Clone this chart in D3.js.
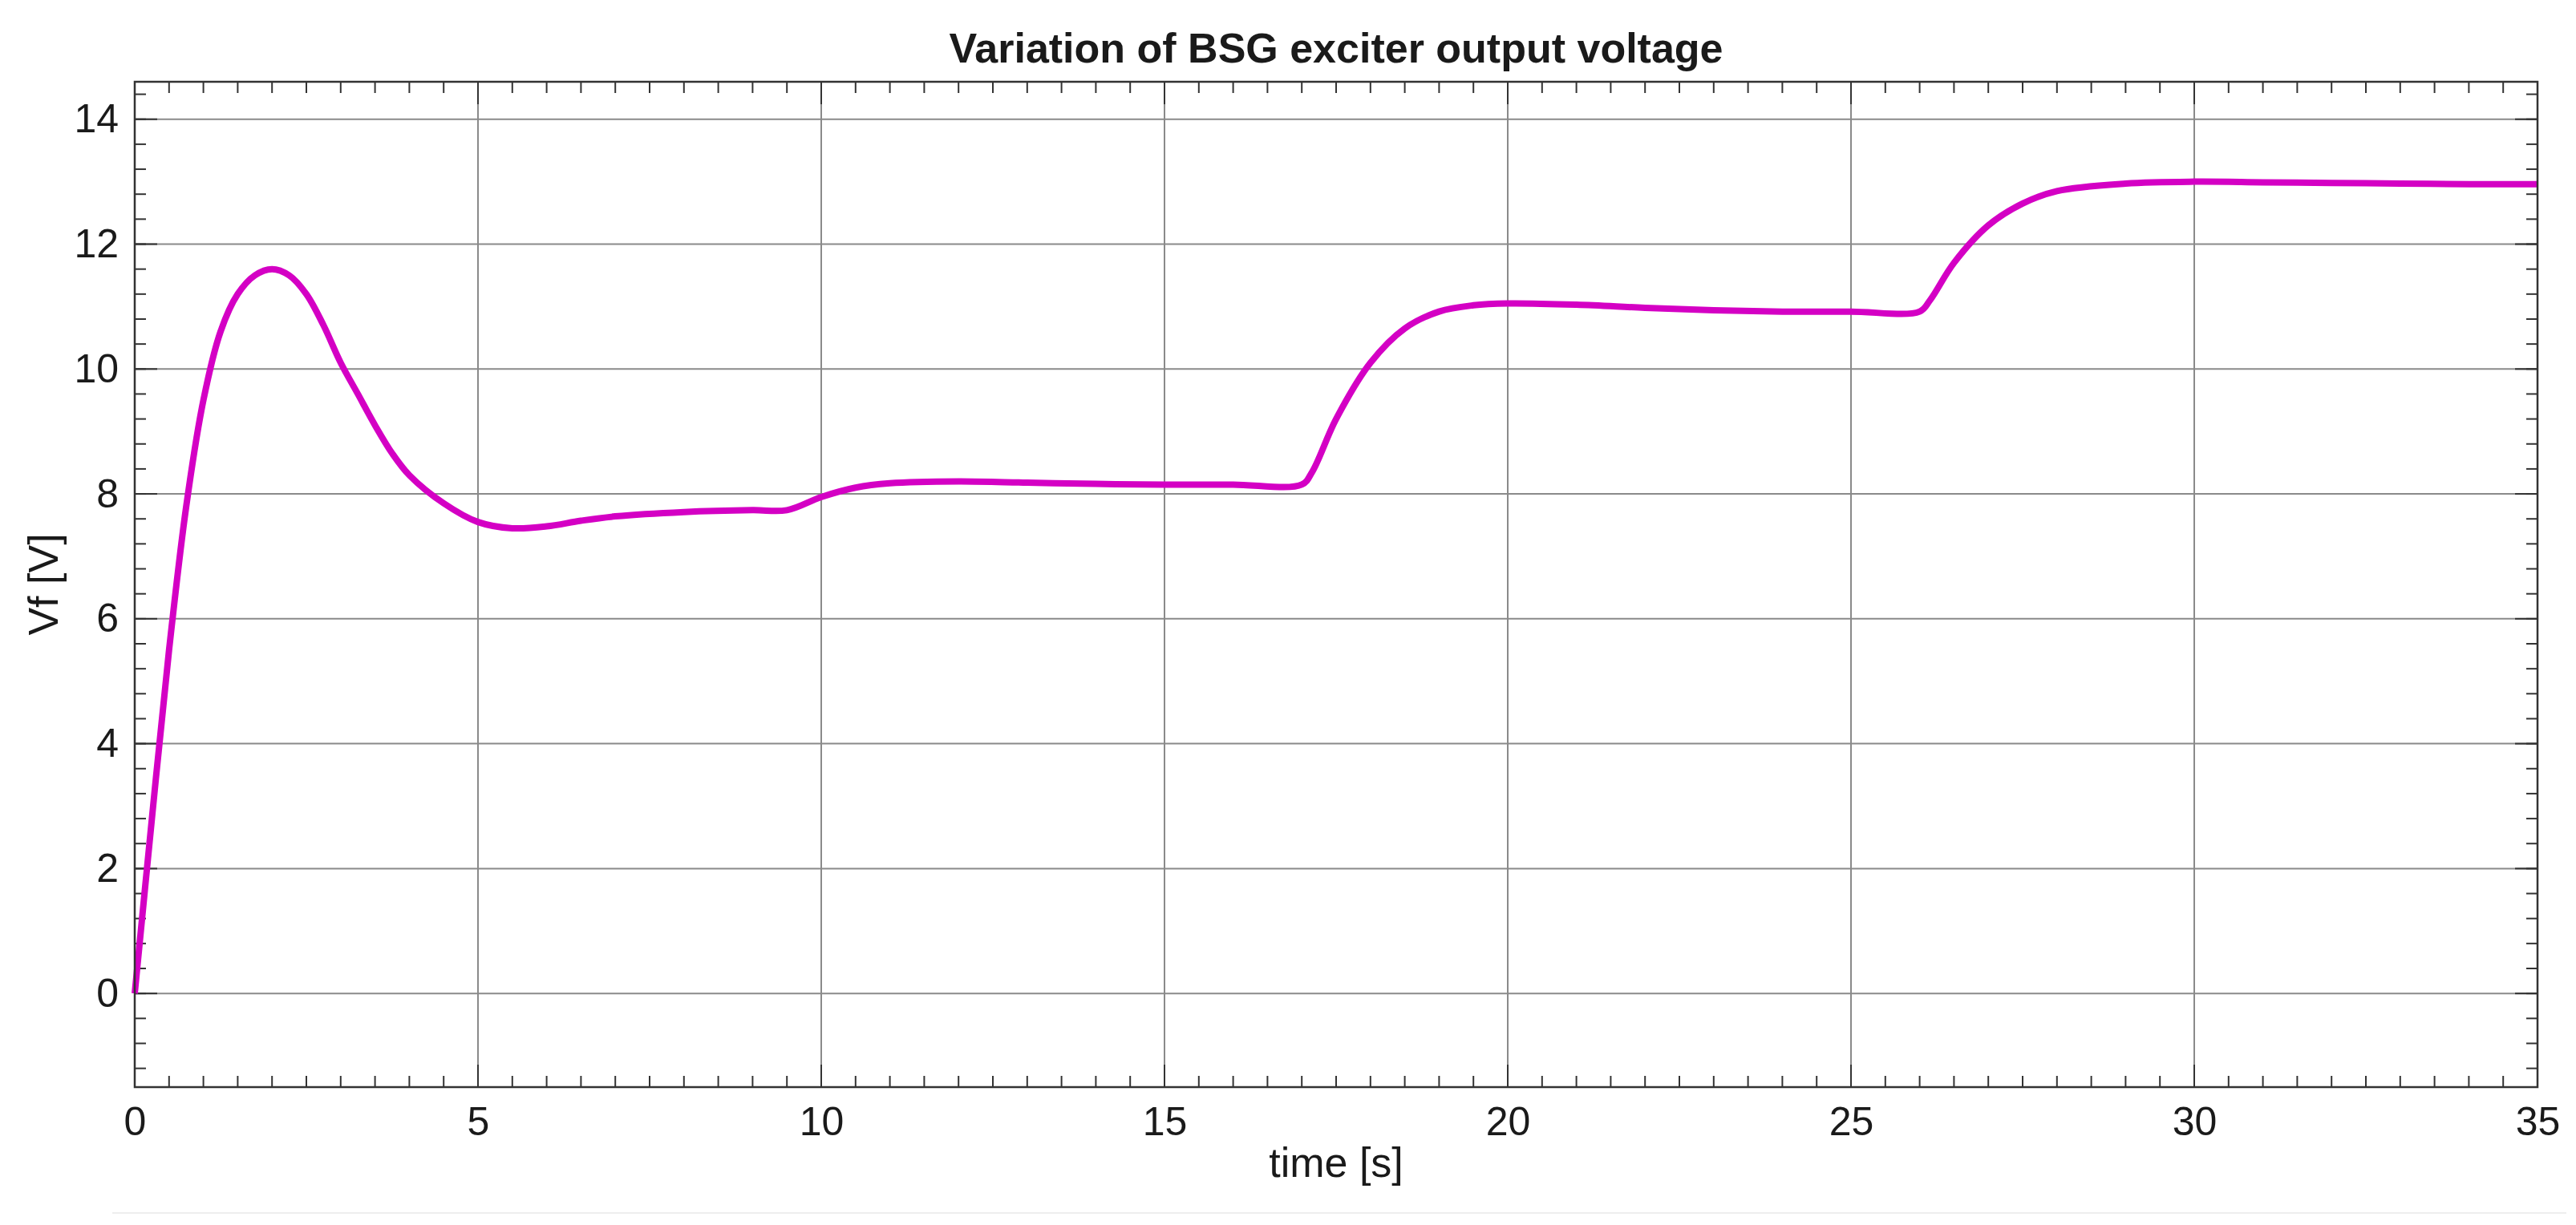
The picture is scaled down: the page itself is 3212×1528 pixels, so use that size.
<!DOCTYPE html>
<html>
<head>
<meta charset="utf-8">
<script src="https://cdn.jsdelivr.net/npm/d3@7"></script>
<style>
  body { margin: 0; background: #fff; }
  text { font-family: Arial, "Liberation Sans", sans-serif; fill: #1a1a1a; }
</style>
</head>
<body>
<div id="vis_container"></div>
<script>
// time [s] and exciter output voltage Vf [V]
var timeValues = [0, 0.25, 0.5, 0.75, 1.0, 1.25, 1.5, 1.75, 2.0, 2.25, 2.5, 2.75, 3.0, 3.25, 3.5, 3.75, 4.0, 4.5, 5.0, 5.5, 6, 6.5, 7, 8, 9, 9.5,
  10, 10.5, 11, 12, 13, 14, 15, 16, 17, 17.15, 17.5, 18, 18.5, 19, 19.5, 20, 21, 22, 23, 24, 25, 26, 26.15, 26.5, 27, 27.5, 28, 29, 30, 31, 32, 33, 34, 35];
var vfValues = [0, 2.8, 5.5, 7.8, 9.5, 10.6, 11.2, 11.5, 11.6, 11.5, 11.2, 10.7, 10.1, 9.6, 9.1, 8.65, 8.3, 7.85, 7.55, 7.45, 7.48, 7.57, 7.64, 7.71, 7.74, 7.74,
  7.95, 8.1, 8.17, 8.2, 8.18, 8.16, 8.15, 8.15, 8.15, 8.35, 9.2, 10.1, 10.65, 10.92, 11.02, 11.05, 11.03, 10.98, 10.94, 10.92, 10.92, 10.92, 11.1, 11.7, 12.3, 12.65, 12.85, 12.97, 13.0, 12.99, 12.98, 12.97, 12.96, 12.96];
var xTickValues = [0, 5, 10, 15, 20, 25, 30, 35];
var yTickValues = [0, 2, 4, 6, 8, 10, 12, 14];

var W = 3212, H = 1528;
var m = {left: 168, right: 48, top: 102, bottom: 172};

var svg = d3.select("#vis_container").append("svg")
  .attr("width", W).attr("height", H);

var x = d3.scaleLinear().domain([0, 35]).range([m.left, W - m.right]);
var y = d3.scaleLinear().domain([-1.5, 14.6]).range([H - m.bottom, m.top]);

// grid
svg.append("g").selectAll("line").data(xTickValues.slice(1, -1)).enter().append("line")
  .attr("x1", x).attr("x2", x).attr("y1", y(-1.5)).attr("y2", y(14.6))
  .attr("stroke", "#8a8a8a").attr("stroke-width", 2);
svg.append("g").selectAll("line").data(yTickValues).enter().append("line")
  .attr("x1", x(0)).attr("x2", x(35)).attr("y1", y).attr("y2", y)
  .attr("stroke", "#8a8a8a").attr("stroke-width", 2);

// minor ticks, inward on all four sides
var xMinor = d3.range(0, 35.01, 0.5);
var yMinor = d3.range(-1.2, 14.61, 0.4);
var tickCol = "#333";
function addXTicks(vals, len) {
  svg.append("g").selectAll("line").data(vals).enter().append("line")
    .attr("x1", x).attr("x2", x).attr("y1", y(-1.5)).attr("y2", y(-1.5) - len)
    .attr("stroke", tickCol).attr("stroke-width", 2);
  svg.append("g").selectAll("line").data(vals).enter().append("line")
    .attr("x1", x).attr("x2", x).attr("y1", y(14.6)).attr("y2", y(14.6) + len)
    .attr("stroke", tickCol).attr("stroke-width", 2);
}
function addYTicks(vals, len) {
  svg.append("g").selectAll("line").data(vals).enter().append("line")
    .attr("x1", x(0)).attr("x2", x(0) + len).attr("y1", y).attr("y2", y)
    .attr("stroke", tickCol).attr("stroke-width", 2);
  svg.append("g").selectAll("line").data(vals).enter().append("line")
    .attr("x1", x(35)).attr("x2", x(35) - len).attr("y1", y).attr("y2", y)
    .attr("stroke", tickCol).attr("stroke-width", 2);
}
addXTicks(xMinor, 14);
addYTicks(yMinor, 14);
addXTicks(xTickValues, 28);
addYTicks(yTickValues, 28);

// curve
var line = d3.line()
  .x(function(d) { return x(d[0]); })
  .y(function(d) { return y(d[1]); })
  .curve(d3.curveCatmullRom.alpha(0.5));
svg.append("path")
  .datum(d3.zip(timeValues, vfValues))
  .attr("d", line)
  .attr("fill", "none")
  .attr("stroke", "#d400c4")
  .attr("stroke-width", 8)
  .attr("stroke-linejoin", "round");

// frame
svg.append("rect")
  .attr("x", x(0)).attr("y", y(14.6))
  .attr("width", x(35) - x(0)).attr("height", y(-1.5) - y(14.6))
  .attr("fill", "none").attr("stroke", "#333").attr("stroke-width", 2.5);

// axes with d3, only labels shown
var xAxis = svg.append("g").attr("transform", "translate(0," + y(-1.5) + ")")
  .call(d3.axisBottom(x).tickValues(xTickValues).tickSize(0).tickPadding(24));
var yAxis = svg.append("g").attr("transform", "translate(" + x(0) + ",0)")
  .call(d3.axisLeft(y).tickValues(yTickValues).tickSize(0).tickPadding(20));
[xAxis, yAxis].forEach(function(a) {
  a.select(".domain").remove();
  a.selectAll("text").attr("font-size", 50).attr("font-family", "Arial, 'Liberation Sans', sans-serif").attr("fill", "#1a1a1a");
});
xAxis.selectAll("text").attr("dy", "0.71em");

svg.append("text").attr("x", (x(0) + x(35)) / 2).attr("y", 1468)
  .attr("text-anchor", "middle").attr("font-size", 52).text("time [s]");
svg.append("text").attr("transform", "translate(72," + y(6.55) + ") rotate(-90)")
  .attr("text-anchor", "middle").attr("font-size", 52).text("Vf [V]");
svg.append("text").attr("x", (x(0) + x(35)) / 2).attr("y", 78)
  .attr("text-anchor", "middle").attr("font-size", 52).attr("font-weight", "bold")
  .text("Variation of BSG exciter output voltage");

svg.append("line").attr("x1", 140).attr("x2", 3200).attr("y1", 1513).attr("y2", 1513)
  .attr("stroke", "#eee").attr("stroke-width", 2);
</script>
</body>
</html>
